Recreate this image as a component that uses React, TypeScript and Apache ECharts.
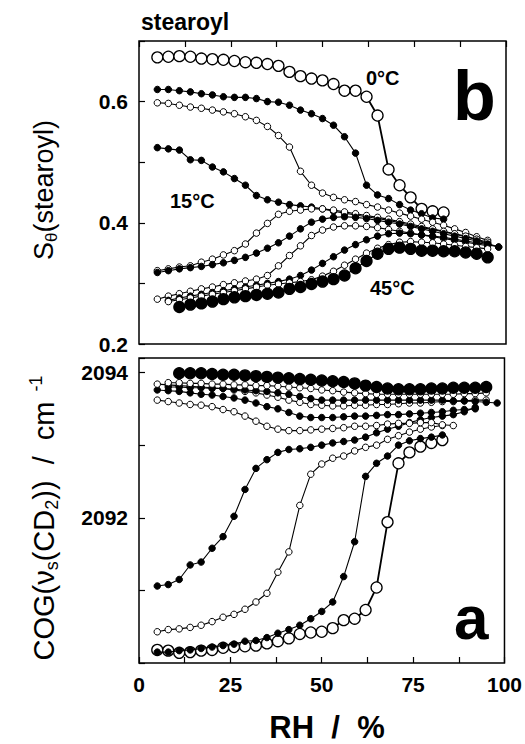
import React, { useEffect, useRef } from 'react';
import * as echarts from 'echarts';

// Relative humidity grid (%)
const RH = [5, 8, 11, 14, 17, 20, 23, 26, 29, 32, 35, 38, 41, 44, 47, 50, 53, 56, 59, 62, 65, 68, 71, 74, 77, 80, 83, 86, 89, 92, 95, 98];

const TEMPS = ['0°C', '5°C', '10°C', '15°C', '20°C', '25°C', '30°C', '35°C', '40°C', '45°C'];
// index into RH where each temperature series starts
const START = [0, 0, 0, 0, 0, 0, 0, 1, 1, 2];

// Panel b: S_theta(stearoyl)
const S_0 = [0.673, 0.674, 0.675, 0.674, 0.671, 0.670, 0.669, 0.667, 0.665, 0.664, 0.662, 0.659, 0.649, 0.642, 0.638, 0.635, 0.629, 0.618, 0.618, 0.608, 0.577, 0.488, 0.462, 0.442, 0.423, 0.419, 0.417];
const S_5 = [0.620, 0.620, 0.618, 0.616, 0.613, 0.611, 0.608, 0.607, 0.607, 0.605, 0.600, 0.599, 0.594, 0.586, 0.580, 0.572, 0.561, 0.542, 0.515, 0.462, 0.446, 0.440, 0.430, 0.421, 0.415, 0.408, 0.406];
const S_10 = [0.598, 0.597, 0.594, 0.591, 0.589, 0.586, 0.583, 0.580, 0.575, 0.569, 0.559, 0.544, 0.525, 0.485, 0.462, 0.449, 0.442, 0.438, 0.435, 0.430, 0.426, 0.421, 0.416, 0.411, 0.406, 0.401, 0.396, 0.390, 0.384, 0.377, 0.371];
const S_15 = [0.524, 0.522, 0.520, 0.504, 0.503, 0.492, 0.484, 0.473, 0.462, 0.445, 0.438, 0.434, 0.430, 0.428, 0.426, 0.423, 0.419, 0.416, 0.413, 0.410, 0.407, 0.404, 0.400, 0.396, 0.392, 0.389, 0.385, 0.381, 0.377, 0.372, 0.366, 0.360];
const S_20 = [0.321, 0.324, 0.327, 0.329, 0.335, 0.340, 0.347, 0.354, 0.365, 0.383, 0.399, 0.414, 0.419, 0.421, 0.423, 0.423, 0.421, 0.418, 0.415, 0.412, 0.409, 0.406, 0.402, 0.398, 0.394, 0.390, 0.386, 0.382, 0.378, 0.373, 0.368];
const S_25 = [0.318, 0.321, 0.324, 0.326, 0.328, 0.331, 0.334, 0.338, 0.343, 0.350, 0.358, 0.367, 0.378, 0.390, 0.401, 0.406, 0.409, 0.410, 0.409, 0.407, 0.404, 0.401, 0.398, 0.394, 0.390, 0.386, 0.382, 0.378, 0.374, 0.370, 0.365];
const S_30 = [0.274, 0.279, 0.283, 0.287, 0.291, 0.294, 0.298, 0.301, 0.304, 0.307, 0.313, 0.329, 0.346, 0.362, 0.379, 0.388, 0.393, 0.395, 0.395, 0.394, 0.392, 0.389, 0.386, 0.383, 0.380, 0.377, 0.374, 0.371, 0.368, 0.365, 0.362];
const S_35 = [0.272, 0.276, 0.279, 0.282, 0.285, 0.288, 0.291, 0.294, 0.297, 0.300, 0.303, 0.307, 0.313, 0.322, 0.333, 0.344, 0.355, 0.364, 0.372, 0.378, 0.382, 0.383, 0.382, 0.380, 0.378, 0.376, 0.373, 0.370, 0.367, 0.364, 0.360];
const S_40 = [0.270, 0.273, 0.276, 0.279, 0.282, 0.285, 0.288, 0.291, 0.294, 0.297, 0.299, 0.301, 0.303, 0.306, 0.312, 0.320, 0.330, 0.340, 0.350, 0.358, 0.364, 0.368, 0.369, 0.368, 0.367, 0.365, 0.363, 0.361, 0.359, 0.357];
const S_45 = [0.261, 0.265, 0.267, 0.270, 0.274, 0.277, 0.279, 0.281, 0.283, 0.285, 0.291, 0.294, 0.299, 0.303, 0.307, 0.313, 0.325, 0.337, 0.349, 0.357, 0.359, 0.357, 0.354, 0.354, 0.353, 0.353, 0.351, 0.349, 0.343];

// Panel a: COG(nu_s(CD2)) / cm-1
const C_0 = [2090.18, 2090.17, 2090.14, 2090.15, 2090.17, 2090.18, 2090.21, 2090.22, 2090.23, 2090.24, 2090.27, 2090.30, 2090.34, 2090.40, 2090.42, 2090.43, 2090.48, 2090.59, 2090.61, 2090.73, 2091.04, 2091.94, 2092.75, 2092.90, 2092.98, 2093.03, 2093.07];
const C_5 = [2090.15, 2090.15, 2090.17, 2090.18, 2090.20, 2090.22, 2090.24, 2090.26, 2090.30, 2090.31, 2090.35, 2090.41, 2090.46, 2090.52, 2090.61, 2090.71, 2090.84, 2091.19, 2091.67, 2092.57, 2092.75, 2092.85, 2093.00, 2093.06, 2093.09, 2093.11, 2093.14];
const C_10 = [2090.43, 2090.46, 2090.47, 2090.49, 2090.52, 2090.57, 2090.63, 2090.67, 2090.74, 2090.84, 2090.96, 2091.25, 2091.53, 2092.17, 2092.60, 2092.74, 2092.82, 2092.85, 2092.92, 2092.97, 2093.00, 2093.08, 2093.13, 2093.18, 2093.22, 2093.25, 2093.27];
const C_15 = [2091.06, 2091.08, 2091.15, 2091.35, 2091.39, 2091.58, 2091.74, 2092.02, 2092.39, 2092.68, 2092.80, 2092.90, 2092.94, 2092.95, 2092.97, 2093.00, 2093.03, 2093.05, 2093.07, 2093.11, 2093.17, 2093.22, 2093.26, 2093.31, 2093.35, 2093.38, 2093.40, 2093.42, 2093.46, 2093.52];
const C_20 = [2093.62, 2093.60, 2093.58, 2093.56, 2093.55, 2093.53, 2093.49, 2093.46, 2093.40, 2093.33, 2093.26, 2093.22, 2093.20, 2093.20, 2093.21, 2093.22, 2093.23, 2093.24, 2093.26, 2093.26, 2093.27, 2093.29, 2093.30, 2093.30, 2093.31, 2093.31, 2093.28, 2093.27];
const C_25 = [2093.76, 2093.75, 2093.74, 2093.72, 2093.70, 2093.69, 2093.67, 2093.65, 2093.62, 2093.58, 2093.53, 2093.50, 2093.45, 2093.40, 2093.38, 2093.38, 2093.38, 2093.39, 2093.40, 2093.40, 2093.41, 2093.42, 2093.42, 2093.43, 2093.44, 2093.45, 2093.46, 2093.48, 2093.49, 2093.50];
const C_30 = [2093.84, 2093.83, 2093.82, 2093.81, 2093.80, 2093.79, 2093.78, 2093.76, 2093.74, 2093.72, 2093.69, 2093.66, 2093.62, 2093.59, 2093.56, 2093.55, 2093.54, 2093.54, 2093.55, 2093.55, 2093.56, 2093.56, 2093.57, 2093.58, 2093.58, 2093.59, 2093.60, 2093.60, 2093.61, 2093.62, 2093.62];
const C_35 = [2093.80, 2093.80, 2093.79, 2093.79, 2093.78, 2093.78, 2093.77, 2093.76, 2093.75, 2093.74, 2093.72, 2093.70, 2093.67, 2093.64, 2093.62, 2093.62, 2093.62, 2093.62, 2093.62, 2093.62, 2093.62, 2093.62, 2093.62, 2093.62, 2093.62, 2093.62, 2093.61, 2093.61, 2093.60, 2093.59, 2093.58];
const C_40 = [2093.86, 2093.86, 2093.85, 2093.85, 2093.84, 2093.84, 2093.83, 2093.83, 2093.82, 2093.82, 2093.81, 2093.80, 2093.79, 2093.78, 2093.76, 2093.75, 2093.73, 2093.72, 2093.71, 2093.70, 2093.70, 2093.70, 2093.70, 2093.70, 2093.70, 2093.70, 2093.70, 2093.71, 2093.71, 2093.72];
const C_45 = [2093.99, 2093.99, 2093.99, 2093.98, 2093.97, 2093.97, 2093.96, 2093.95, 2093.94, 2093.93, 2093.92, 2093.91, 2093.90, 2093.89, 2093.88, 2093.87, 2093.85, 2093.82, 2093.80, 2093.78, 2093.77, 2093.77, 2093.77, 2093.78, 2093.78, 2093.79, 2093.79, 2093.79, 2093.80];

const S_SERIES = [S_0, S_5, S_10, S_15, S_20, S_25, S_30, S_35, S_40, S_45];
const C_SERIES = [C_0, C_5, C_10, C_15, C_20, C_25, C_30, C_35, C_40, C_45];

const X_TICKS = [0, 25, 50, 75, 100];
const S_TICKS = [0.2, 0.4, 0.6];
const C_TICKS = [2092, 2094];

const FONT = '"Liberation Sans", Arial, Helvetica, sans-serif';

function markerStyle(k: number) {
  const big = k === 0 || k === 9;
  const open = k % 2 === 0;
  return {
    symbolSize: big ? 11 : 6.5,
    itemStyle: {
      color: open ? '#fff' : '#000',
      borderColor: '#000',
      borderWidth: big ? 1.3 : 1,
    },
    lineStyle: { color: '#000', width: k === 0 ? 1.8 : 1.1 },
  };
}

function buildSeries(sets: number[][], axis: number) {
  return sets.map((vals, k) => ({
    name: TEMPS[k] + (axis === 0 ? ' S' : ' COG'),
    type: 'line',
    xAxisIndex: axis,
    yAxisIndex: axis,
    symbol: 'circle',
    showSymbol: true,
    data: vals.map((v, i) => [RH[START[k] + i], v]),
    ...markerStyle(k),
    z: 2 + k,
    silent: true,
  }));
}

const tickStyle = { show: true, inside: true, length: 6, lineStyle: { color: '#000', width: 1.2 } };
const labelBase = { color: '#000', fontSize: 21, fontWeight: 'bold', fontFamily: FONT };

export default function App() {
  const ref = useRef<HTMLDivElement>(null);
  useEffect(() => {
    if (!ref.current) return;
    const chart = echarts.init(ref.current, undefined, { renderer: 'svg' });
    const near = (v: number, list: number[]) => list.some((t) => Math.abs(t - v) < 1e-6);
    const option: any = {
      animation: false,
      backgroundColor: '#fff',
      grid: [
        { left: 139, top: 41, width: 367, height: 303, show: true, borderColor: '#000', borderWidth: 1.5 },
        { left: 139, top: 358, width: 367, height: 305, show: true, borderColor: '#000', borderWidth: 1.5 },
      ],
      xAxis: [
        {
          gridIndex: 0, type: 'value', min: 0, max: 100, interval: 12.5, position: 'top',
          axisLine: { show: false }, axisTick: tickStyle, axisLabel: { show: false }, splitLine: { show: false },
        },
        {
          gridIndex: 1, type: 'value', min: 0, max: 100, interval: 12.5, position: 'bottom',
          axisLine: { show: false }, axisTick: tickStyle, splitLine: { show: false },
          axisLabel: { ...labelBase, margin: 11, formatter: (v: number) => (near(v, X_TICKS) ? String(v) : '') },
        },
      ],
      yAxis: [
        {
          gridIndex: 0, type: 'value', min: 0.2, max: 0.7, interval: 0.1,
          axisLine: { show: false }, axisTick: tickStyle, splitLine: { show: false },
          axisLabel: { ...labelBase, margin: 11, formatter: (v: number) => (near(v, S_TICKS) ? v.toFixed(1) : '') },
        },
        {
          gridIndex: 1, type: 'value', min: 2090, max: 2094.2, interval: 1,
          axisLine: { show: false }, axisTick: tickStyle, splitLine: { show: false },
          axisLabel: { ...labelBase, margin: 11, formatter: (v: number) => (near(v, C_TICKS) ? String(v) : '') },
        },
      ],
      series: [...buildSeries(S_SERIES, 0), ...buildSeries(C_SERIES, 1)],
      graphic: [
        { type: 'text', x: 141, y: 22, style: { text: 'stearoyl', font: `bold 23px ${FONT}`, fill: '#000', align: 'left', verticalAlign: 'middle' } },
        { type: 'text', x: 453, y: 96, style: { text: 'b', font: `bold 70px ${FONT}`, fill: '#000', align: 'left', verticalAlign: 'middle' } },
        { type: 'text', x: 454, y: 617, style: { text: 'a', font: `bold 62px ${FONT}`, fill: '#000', align: 'left', verticalAlign: 'middle' } },
        { type: 'text', x: 366, y: 78, style: { text: '0°C', font: `bold 20px ${FONT}`, fill: '#000', align: 'left', verticalAlign: 'middle' } },
        { type: 'text', x: 170, y: 201, style: { text: '15°C', font: `bold 20px ${FONT}`, fill: '#000', align: 'left', verticalAlign: 'middle' } },
        { type: 'text', x: 370, y: 288, style: { text: '45°C', font: `bold 20px ${FONT}`, fill: '#000', align: 'left', verticalAlign: 'middle' } },
        { type: 'text', x: 327, y: 727, style: { text: 'RH  /  %', font: `bold 31px ${FONT}`, fill: '#000', align: 'center', verticalAlign: 'middle' } },
        {
          type: 'text', x: 44, y: 190, rotation: Math.PI / 2,
          style: {
            text: '{m|S}{s|θ}{m|(stearoyl)}', align: 'center', verticalAlign: 'middle', fill: '#000',
            rich: {
              m: { fontSize: 27, fontFamily: FONT, lineHeight: 32, fill: '#000' },
              s: { fontSize: 17, fontFamily: FONT, lineHeight: 16, verticalAlign: 'bottom', fill: '#000' },
            },
          },
        },
        {
          type: 'text', x: 44, y: 518, rotation: Math.PI / 2,
          style: {
            text: '{m|COG(ν}{s|s}{m|(CD}{s|2}{m|))  /  cm}{p|  -1}', align: 'center', verticalAlign: 'middle', fill: '#000',
            rich: {
              m: { fontSize: 29, fontFamily: FONT, lineHeight: 34, fill: '#000' },
              s: { fontSize: 18, fontFamily: FONT, lineHeight: 17, verticalAlign: 'bottom', fill: '#000' },
              p: { fontSize: 18, fontFamily: FONT, lineHeight: 17, verticalAlign: 'top', fill: '#000' },
            },
          },
        },
      ],
    };
    chart.setOption(option);
    return () => chart.dispose();
  }, []);
  return <div ref={ref} style={{ position: 'fixed', left: 0, top: 0, width: 525, height: 744, background: '#fff' }} />;
}
